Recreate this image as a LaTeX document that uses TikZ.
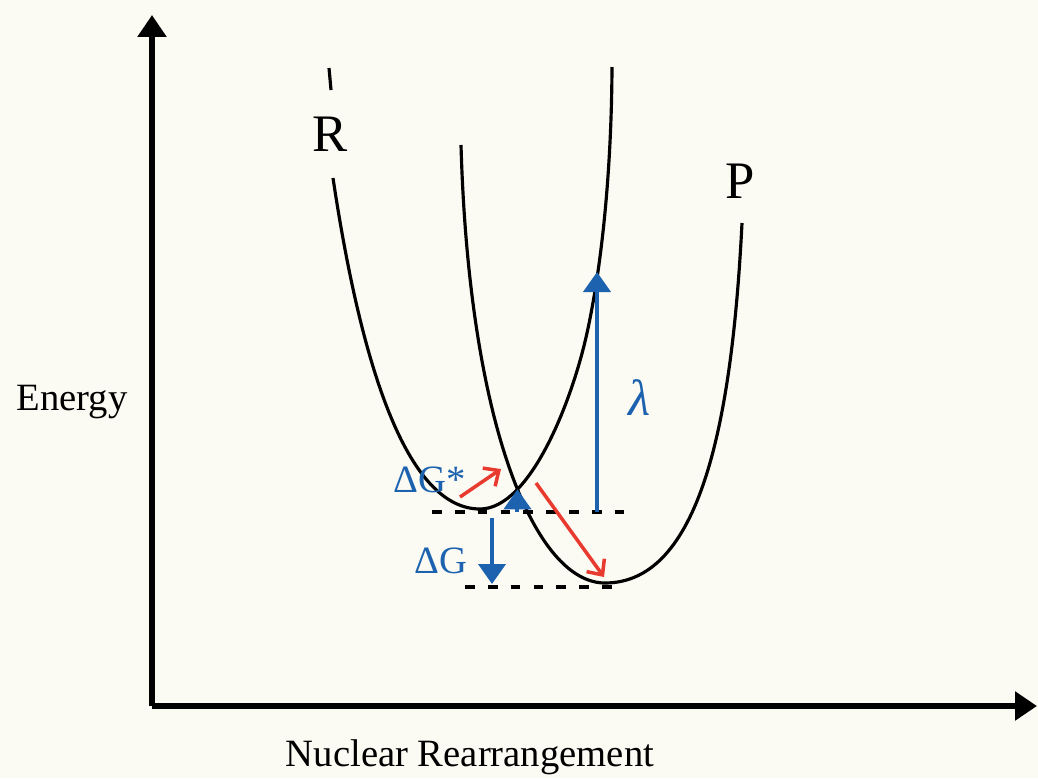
\documentclass[tikz,border=0pt]{standalone}
\usepackage{fontspec}
\setmainfont{Liberation Serif}
\usetikzlibrary{arrows.meta,intersections}
\definecolor{bg}{HTML}{FBFBF3}
\definecolor{eblue}{HTML}{1D62AE}
\definecolor{ered}{HTML}{E83A2E}
\begin{document}
\begin{tikzpicture}[x=0.02cm,y=-0.02cm,
  axis/.style={line width=3.3pt,-{Triangle[length=0.44cm,width=0.56cm]}},
  pes/.style={line width=1.8pt},
  bluearr/.style={eblue,line width=2.3pt,-{Triangle[length=0.40cm,width=0.54cm]}},
  redarr/.style={ered,line width=2pt,-{Straight Barb[length=0.24cm,width=0.44cm]}},
  level/.style={line width=2.4pt,dash pattern=on 5.5pt off 7.5pt},
  lbl/.style={inner sep=0pt,font=\fontsize{22}{26}\selectfont},
  big/.style={inner sep=0pt,font=\fontsize{30}{34}\selectfont},
  bluelbl/.style={inner sep=0pt,text=eblue,font=\fontsize{22}{26}\selectfont}]
\fill[bg] (0,0) rectangle (1038,778);
\useasboundingbox (0,0) rectangle (1038,778);

% axes
\coordinate (O) at (152,706);
\coordinate (Ytip) at (152,15);
\coordinate (Xtip) at (1037,706);
\draw[axis] (O) -- (Ytip);
\draw[axis] (O) -- (Xtip);

% R curve
\draw[pes] (329,68) -- (331,90);
\draw[pes,name path=Rc] (333,178) .. controls (363,378) and (410,509) .. (480,509)
  .. controls (530,509) and (572,401.4) .. (587,333)
  .. controls (602,264.6) and (611.5,170) .. (612,67);

% P curve
\draw[pes,name path=Pc] (461,145) .. controls (469,425) and (535,583) .. (605,583)
  .. controls (700,583) and (732,423) .. (742,223);

\path[name intersections={of=Rc and Pc,by=X}];

% levels
\coordinate (U1) at (432,512);
\coordinate (U2) at (625,512);
\coordinate (L1) at (465,587);
\coordinate (L2) at (615,587);
\draw[level] (U1) -- (U2);
\draw[level] (L1) -- (L2);

% blue arrows
\coordinate (lb) at (597,512);
\coordinate (lt) at (597,272);
\coordinate (gb) at (492,518);
\coordinate (gt) at (492,584);
\draw[bluearr] (X |- U1) -- (X);
\draw[bluearr] (lb) -- (lt);
\draw[bluearr] (gb) -- (gt);

% red arrows
\coordinate (r1s) at (460,497);
\coordinate (r1e) at (501,469);
\coordinate (r2s) at (536,483);
\coordinate (r2e) at (604,577);
\draw[redarr] (r1s) -- (r1e);
\draw[redarr] (r2s) -- (r2e);

% labels
\node[lbl] (energy) at (72,402) {Energy};
\node[lbl] (nuc) at (470,757) {Nuclear Rearrangement};
\node[big] (R) at (330,134) {R};
\node[big] (P) at (740,181) {P};
\node[bluelbl] (dgs) at (430,480) {ΔG*};
\node[bluelbl] (dg) at (441,561) {ΔG};
\node[inner sep=0pt,text=eblue,font=\fontsize{29}{32}\selectfont\itshape] (lam) at (640,398) {λ};
\end{tikzpicture}
\end{document}
